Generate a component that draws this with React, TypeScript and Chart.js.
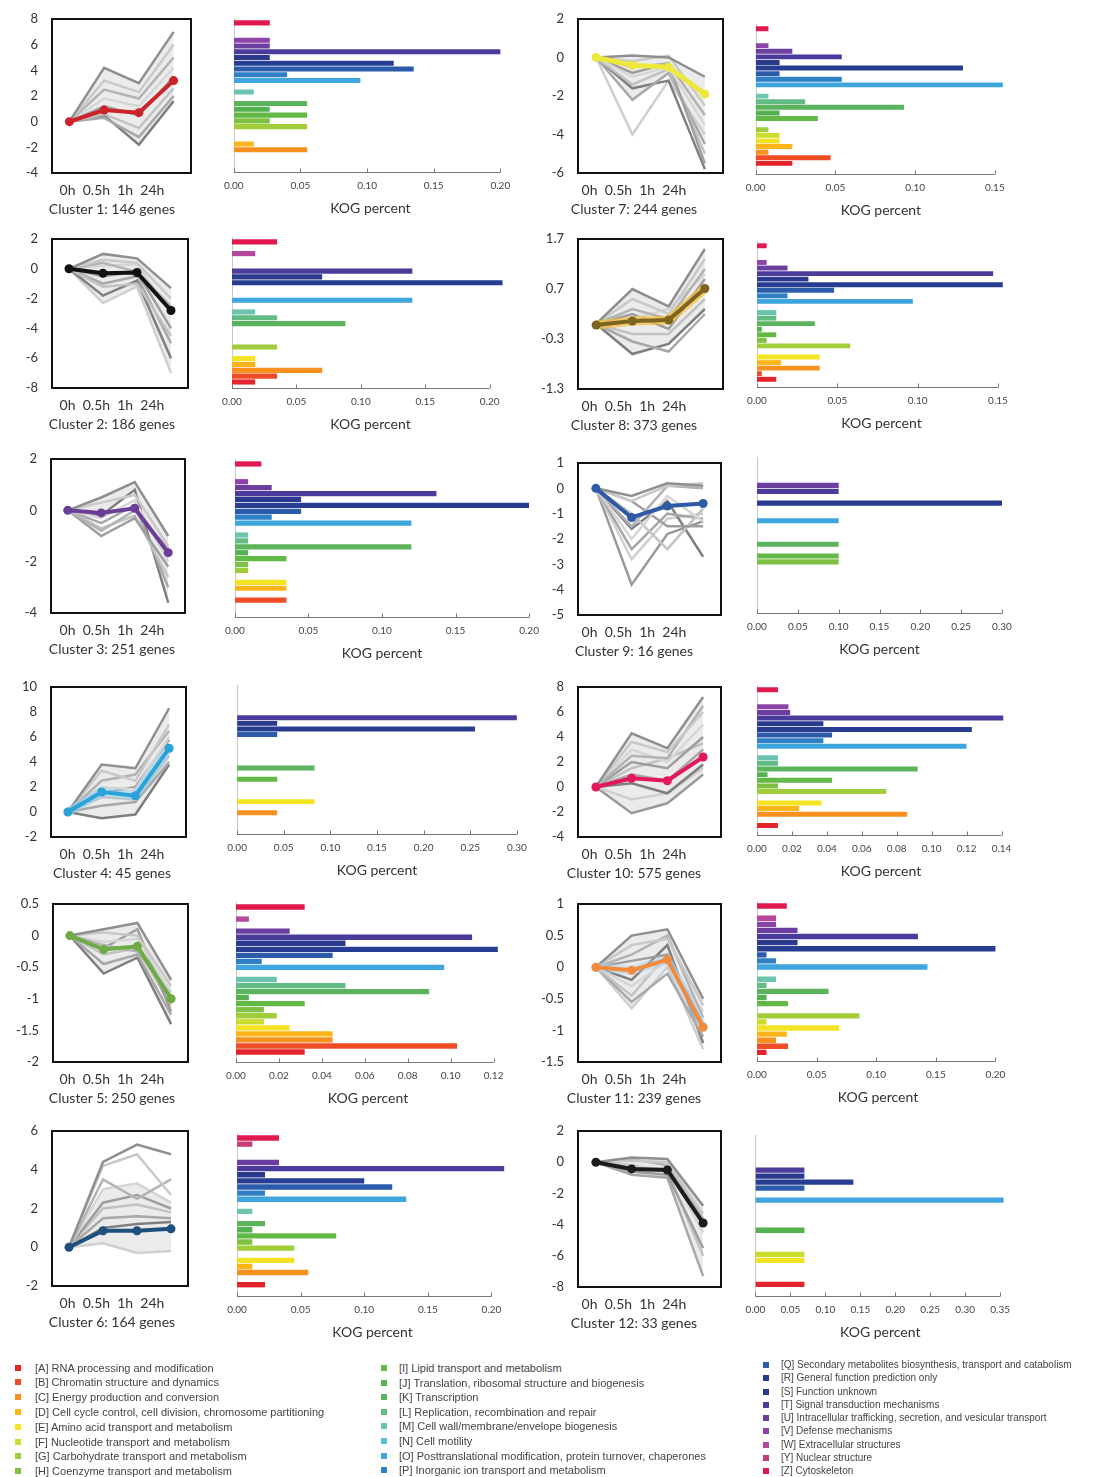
import React, { useEffect, useRef } from "react";
import { Chart, registerables } from "chart.js";

Chart.register(...registerables);

const FONT = "Lato, 'Open Sans', sans-serif";

// ---------- shared labels ----------
const timeLabels = ["0h", "0.5h", "1h", "24h"];
const kogCodes = ["A", "B", "C", "D", "E", "F", "G", "H", "I", "J", "K", "L", "M", "N", "O", "P", "Q", "R", "S", "T", "U", "V", "W", "Y", "Z"];
const kogNames = [
  "RNA processing and modification",
  "Chromatin structure and dynamics",
  "Energy production and conversion",
  "Cell cycle control, cell division, chromosome partitioning",
  "Amino acid transport and metabolism",
  "Nucleotide transport and metabolism",
  "Carbohydrate transport and metabolism",
  "Coenzyme transport and metabolism",
  "Lipid transport and metabolism",
  "Translation, ribosomal structure and biogenesis",
  "Transcription",
  "Replication, recombination and repair",
  "Cell wall/membrane/envelope biogenesis",
  "Cell motility",
  "Posttranslational modification, protein turnover, chaperones",
  "Inorganic ion transport and metabolism",
  "Secondary metabolites biosynthesis, transport and catabolism",
  "General function prediction only",
  "Function unknown",
  "Signal transduction mechanisms",
  "Intracellular trafficking, secretion, and vesicular transport",
  "Defense mechanisms",
  "Extracellular structures",
  "Nuclear structure",
  "Cytoskeleton",
];
const kogColors = [
  "#e3242b", "#ef4b26", "#f7901e", "#fbb51a", "#f3e324", "#cbdc2c", "#a2cd3a", "#80c043",
  "#63b946", "#55b04f", "#5cb35d", "#62bb82", "#6cc4b0", "#58c2d4", "#3ea6dd", "#2f7fc6",
  "#2b5ba9", "#263d92", "#2c3a8e", "#4b3b9b", "#6b3ea0", "#8c44a8", "#b5479c", "#c93a78", "#e01a4f",
];

// ---------- cluster data ----------
const clusterGenes = [146, 186, 251, 45, 250, 164, 244, 373, 16, 575, 239, 33];

const c1Main = [0, 0.9, 0.7, 3.2];
const c2Main = [0, -0.3, -0.25, -2.8];
const c3Main = [0, -0.1, 0.08, -1.65];
const c4Main = [0, 1.6, 1.3, 5.1];
const c5Main = [0, -0.22, -0.17, -1.0];
const c6Main = [0, 0.85, 0.85, 0.95];
const c7Main = [0, -0.4, -0.5, -1.9];
const c8Main = [-0.02, 0.06, 0.08, 0.71];
const c9Main = [0, -1.15, -0.7, -0.6];
const c10Main = [0, 0.7, 0.5, 2.4];
const c11Main = [0, -0.05, 0.12, -0.95];
const c12Main = [0, -0.43, -0.5, -3.9];

const c1Gray = [
  [0, 4.2, 3.0, 7.0], [0, 3.2, 2.3, 6.0], [0, 2.5, 1.8, 5.0], [0, 1.8, 1.2, 4.2],
  [0, 1.2, 0.5, 3.5], [0, 0.6, -0.5, 2.6], [0, 0.3, -1.2, 2.0], [0, 0.5, -1.8, 1.6],
];
const c2Gray = [
  [0, 1.0, 0.7, -1.3], [0, 0.6, 0.4, -2.0], [0, 0.4, -0.2, -2.5], [0, 0.2, 0.3, -3.0],
  [0, -0.5, -0.2, -4.0], [0, -1.2, -1.0, -4.5], [0, -1.0, -0.5, -5.0], [0, -1.8, -0.8, -6.0],
  [0, -2.3, -1.2, -7.0],
];
const c3Gray = [
  [0, 0.5, 1.1, -1.0], [0, 0.3, 0.6, -1.4], [0, -0.8, 0.0, -1.5], [0, -0.3, 0.4, -2.0],
  [0, -1.0, -0.3, -2.2], [0, -0.7, -0.2, -2.6], [0, -0.5, 0.2, -3.0], [0, -0.2, 0.8, -3.6],
];
const c4Gray = [
  [0, 3.8, 3.5, 8.3], [0, 3.3, 2.5, 7.0], [0, 2.5, 3.0, 6.5], [0, 2.0, 1.8, 6.0],
  [0, 1.5, 2.0, 5.8], [0, 1.2, 1.0, 4.5], [0, 0.5, 0.8, 4.0], [0, -0.5, -0.2, 3.8],
];
const c5Gray = [
  [0, 0.1, 0.2, -0.7], [0, 0.05, 0.0, -0.8], [0, -0.15, -0.25, -0.95], [0, -0.1, -0.05, -0.9],
  [0, -0.2, 0.1, -1.2], [0, -0.3, -0.2, -1.1], [0, -0.45, -0.3, -1.25], [0, -0.6, -0.35, -1.4],
];
const c6Gray = [
  [0, 4.4, 5.3, 4.8], [0, 4.2, 4.8, 2.7], [0, 3.5, 2.5, 3.5], [0, 3.0, 3.3, 2.3],
  [0, 2.3, 2.7, 2.0], [0, 2.0, 2.2, 1.8], [0, 1.5, 1.6, 1.5], [0, 1.0, 1.2, 1.3],
  [0, 0.2, -0.3, -0.2],
];
const c7Gray = [
  [0, 0.1, 0.0, -1.0], [0, -0.2, 0.1, -2.5], [0, -0.5, -0.3, -3.0], [0, -1.0, -0.5, -3.5],
  [0, -0.8, -0.3, -5.5], [0, -1.4, -0.6, -5.0], [0, -2.2, -0.8, -4.5], [0, -1.6, -1.2, -5.8],
  [0, -4.0, -1.2, -4.0],
];
const c8Gray = [
  [0, 0.7, 0.35, 1.5], [0, 0.5, 0.2, 1.3], [0, 0.3, 0.1, 1.1], [0, 0.1, 0.3, 1.0],
  [0, 0.2, -0.1, 0.9], [0, -0.2, -0.2, 0.5], [0, -0.35, -0.55, 0.2], [0, -0.6, -0.4, 0.3],
];
const c9Gray = [
  [0, -0.3, 0.2, 0.1], [0, -0.5, 0.1, 0.2], [0, -1.5, 0.1, 0.0], [0, -2.0, -0.3, -1.3],
  [0, -0.5, -1.5, -1.5], [0, -1.0, -2.4, -0.8], [0, -2.4, -1.0, -1.2], [0, -1.6, -0.5, -2.7],
  [0, -2.8, -1.2, -1.0], [0, -3.8, -1.8, -1.3],
];
const c10Gray = [
  [0, 4.3, 3.1, 7.2], [0, 3.6, 2.8, 6.0], [0, 2.5, 2.3, 6.5], [0, 3.0, 2.0, 5.0],
  [0, 2.0, 1.5, 4.0], [0, 1.5, 2.3, 3.5], [0, 1.0, 0.5, 3.0], [0, 0.3, -0.5, 1.8],
  [0, -1.0, -0.5, 1.5], [0, -2.1, -1.3, 1.0],
];
const c11Gray = [
  [0, 0.5, 0.6, -0.5], [0, 0.35, 0.45, -0.6], [0, 0.2, 0.5, -0.8], [0, -0.3, 0.1, -0.7],
  [0, 0.1, 0.2, -0.9], [0, -0.45, 0.2, -1.0], [0, -0.55, -0.1, -1.1], [0, -0.2, 0.35, -1.2],
  [0, -0.65, 0.0, -1.3],
];
const c12Gray = [
  [0, 0.3, 0.2, -2.8], [0, 0.1, 0.0, -3.3], [0, 0.2, -0.2, -3.6], [0, -0.3, -0.4, -4.5],
  [0, -0.6, -0.8, -5.5], [0, -0.2, -0.6, -6.0], [0, -0.8, -1.0, -7.3],
];

// KOG percent, in order A..Z (kogCodes)
const c1Kog = [0, 0, 0.055, 0.015, 0, 0, 0.055, 0.027, 0.055, 0.027, 0.055, 0, 0.015, 0, 0.095, 0.04, 0.135, 0.12, 0.027, 0.2, 0.027, 0.027, 0, 0, 0.027];
const c2Kog = [0.018, 0.035, 0.07, 0.018, 0.018, 0, 0.035, 0, 0, 0, 0.088, 0.035, 0.018, 0, 0.14, 0, 0, 0.21, 0.07, 0.14, 0, 0, 0.018, 0, 0.035];
const c3Kog = [0, 0.035, 0, 0.035, 0.035, 0, 0.009, 0.009, 0.035, 0.009, 0.12, 0.009, 0.009, 0, 0.12, 0.025, 0.045, 0.2, 0.045, 0.137, 0.025, 0.009, 0, 0, 0.018];
const c4Kog = [0, 0, 0.043, 0, 0.083, 0, 0, 0, 0.043, 0, 0.083, 0, 0, 0, 0, 0, 0.043, 0.255, 0.043, 0.3, 0, 0, 0, 0, 0];
const c5Kog = [0.032, 0.103, 0.045, 0.045, 0.025, 0.013, 0.019, 0.013, 0.032, 0.006, 0.09, 0.051, 0.019, 0, 0.097, 0.012, 0.045, 0.122, 0.051, 0.11, 0.025, 0, 0.006, 0, 0.032];
const c6Kog = [0.022, 0, 0.056, 0.012, 0.045, 0, 0.045, 0.012, 0.078, 0.012, 0.022, 0, 0.012, 0, 0.133, 0.022, 0.122, 0.1, 0.022, 0.21, 0.033, 0, 0, 0.012, 0.033];
const c7Kog = [0.023, 0.047, 0.008, 0.023, 0.015, 0.015, 0.008, 0, 0.039, 0.015, 0.093, 0.031, 0.008, 0, 0.155, 0.054, 0.015, 0.13, 0.015, 0.054, 0.023, 0.008, 0, 0, 0.008];
const c8Kog = [0.012, 0.003, 0.039, 0.015, 0.039, 0, 0.058, 0.006, 0.012, 0.003, 0.036, 0.012, 0.012, 0, 0.097, 0.019, 0.048, 0.153, 0.032, 0.147, 0.019, 0.006, 0, 0, 0.006];
const c9Kog = [0, 0, 0, 0, 0, 0, 0, 0.1, 0.1, 0, 0.1, 0, 0, 0, 0.1, 0, 0, 0.3, 0, 0.1, 0.1, 0, 0, 0, 0];
const c10Kog = [0.012, 0, 0.086, 0.024, 0.037, 0, 0.074, 0.012, 0.043, 0.006, 0.092, 0.012, 0.012, 0, 0.12, 0.038, 0.043, 0.123, 0.038, 0.141, 0.019, 0.018, 0, 0, 0.012];
const c11Kog = [0.008, 0.026, 0.016, 0.025, 0.069, 0.008, 0.086, 0, 0.026, 0.008, 0.06, 0.008, 0.016, 0, 0.143, 0.016, 0.008, 0.2, 0.034, 0.135, 0.034, 0.016, 0.016, 0, 0.025];
const c12Kog = [0.07, 0, 0, 0, 0.07, 0.07, 0, 0, 0, 0.07, 0, 0, 0, 0, 0.355, 0, 0.07, 0.14, 0.07, 0.07, 0, 0, 0, 0, 0];

// axis ranges
const yMins = [-4, -8, -4, -2, -2, -2, -6, -1.3, -5, -4, -1.5, -8];
const yMaxs = [8, 2, 2, 10, 0.5, 6, 2, 1.7, 1, 8, 1, 2];
const ySteps = [2, 2, 2, 2, 0.5, 2, 2, 1, 1, 2, 0.5, 2];
const kogTickMax = [0.2, 0.2, 0.2, 0.3, 0.12, 0.2, 0.15, 0.15, 0.3, 0.14, 0.2, 0.35];
const kogStep = [0.05, 0.05, 0.05, 0.05, 0.02, 0.05, 0.05, 0.05, 0.05, 0.02, 0.05, 0.05];
const kogAxisMax = [0.205, 0.215, 0.2, 0.3, 0.123, 0.213, 0.157, 0.155, 0.3, 0.142, 0.203, 0.357];

// ---------- styling / layout (not data) ----------
const lineColors = ["#cc2229", "#111111", "#6a3d96", "#2aa3d8", "#6fab45", "#1f4f7c", "#ece83c", "#7d6420", "#2e5aa6", "#e2175d", "#f28a3a", "#1c1c1c"];
const haloColors = [null, null, null, "rgba(150,210,240,0.55)", null, null, null, "rgba(245,190,60,0.7)", null, null, "rgba(170,210,240,0.5)", null];
const grayShades = ["#8f8f8f", "#c9c9c9", "#b3b3b3", "#d6d6d6", "#9e9e9e", "#c2c2c2", "#a8a8a8", "#7f7f7f", "#cfcfcf", "#999999"];
// band fill between two gray lines (indices), or null
const bandFrom = [0, 0, 0, 0, 0, 3, 0, 0, null, 0, 0, 0];
const bandTo = [7, 8, 7, 7, 7, 8, 6, 7, null, 9, 8, 6];

const lineBoxes = [
  { l: 52, r: 191, t: 19, b: 173 },
  { l: 52, r: 188, t: 239, b: 388 },
  { l: 51, r: 185, t: 459, b: 613 },
  { l: 51, r: 186, t: 687, b: 837 },
  { l: 53, r: 188, t: 904, b: 1062 },
  { l: 52, r: 188, t: 1131, b: 1286 },
  { l: 578, r: 723, t: 19, b: 173 },
  { l: 578, r: 723, t: 239, b: 389 },
  { l: 578, r: 721, t: 463, b: 615 },
  { l: 578, r: 721, t: 687, b: 837 },
  { l: 578, r: 721, t: 904, b: 1062 },
  { l: 578, r: 721, t: 1131, b: 1287 },
];
const barFrames = [
  { x0: 233, x1: 500, z: 22.7, a: 161.2, axis: 172 },
  { x0: 232, x1: 490, z: 242.3, a: 382, axis: 388 },
  { x0: 234, x1: 530, z: 464, a: 606, axis: 617 },
  { x0: 237, x1: 517, z: 690, a: 824, axis: 834 },
  { x0: 236, x1: 494, z: 907.3, a: 1052.7, axis: 1062.7 },
  { x0: 236, x1: 491, z: 1138.5, a: 1284.8, axis: 1296 },
  { x0: 755, x1: 995, z: 28.3, a: 162.7, axis: 173.3 },
  { x0: 757, x1: 998, z: 245.7, a: 379.3, axis: 387 },
  { x0: 757, x1: 1002, z: 461.5, a: 603, axis: 613 },
  { x0: 757, x1: 1002, z: 689.8, a: 825.5, axis: 835 },
  { x0: 757, x1: 995, z: 906, a: 1052.4, axis: 1061 },
  { x0: 754, x1: 1000, z: 1140, a: 1284.4, axis: 1296 },
];

const mains = [c1Main, c2Main, c3Main, c4Main, c5Main, c6Main, c7Main, c8Main, c9Main, c10Main, c11Main, c12Main];
const grays = [c1Gray, c2Gray, c3Gray, c4Gray, c5Gray, c6Gray, c7Gray, c8Gray, c9Gray, c10Gray, c11Gray, c12Gray];
const kogs = [c1Kog, c2Kog, c3Kog, c4Kog, c5Kog, c6Kog, c7Kog, c8Kog, c9Kog, c10Kog, c11Kog, c12Kog];

const fmt = (v: number, d: number) => {
  const r = Math.round(v * 1000) / 1000;
  return d > 0 ? r.toFixed(d) : String(r);
};

function LineChart({ i }: { i: number }) {
  const ref = useRef<HTMLCanvasElement>(null);
  const box = lineBoxes[i];
  const yW = 50, padT = 9, padB = 9, padR = 6;
  const w = box.r - box.l + yW + padR;
  const h = box.b - box.t + padT + padB;
  useEffect(() => {
    const g = grays[i];
    const datasets: any[] = [
      {
        data: mains[i],
        borderColor: lineColors[i],
        backgroundColor: lineColors[i],
        borderWidth: i === 6 ? 5 : 4,
        pointRadius: 4.5,
        pointBorderWidth: 0,
        fill: false,
        tension: 0,
      },
    ];
    const halo = haloColors[i];
    if (halo) {
      datasets.push({
        data: mains[i],
        borderColor: halo,
        borderWidth: 9,
        pointRadius: 0,
        fill: false,
        tension: 0,
      });
    }
    const offset = datasets.length;
    g.forEach((row, k) => {
      const from = bandFrom[i];
      const to = bandTo[i];
      datasets.push({
        data: row,
        borderColor: grayShades[k % grayShades.length],
        borderWidth: 2.5,
        pointRadius: 0,
        tension: 0,
        fill: from !== null && k === from ? { target: offset + (to as number) } : false,
        backgroundColor: "rgba(205,205,205,0.4)",
      });
    });
    const boxPlugin = {
      id: "boxFrame" + i,
      afterDraw(chart: any) {
        const { ctx, chartArea: a } = chart;
        ctx.save();
        ctx.strokeStyle = "#111";
        ctx.lineWidth = 2;
        ctx.strokeRect(a.left, a.top, a.right - a.left, a.bottom - a.top);
        ctx.restore();
      },
    };
    const chart = new Chart(ref.current as HTMLCanvasElement, {
      type: "line",
      data: { labels: timeLabels, datasets },
      options: {
        animation: false,
        responsive: false,
        devicePixelRatio: 1,
        layout: { padding: { top: padT, bottom: padB, right: padR, left: 0 } },
        plugins: { legend: { display: false }, title: { display: false }, tooltip: { enabled: false }, filler: { drawTime: "beforeDatasetsDraw" } as any },
        scales: {
          x: {
            type: "category",
            display: false,
            offset: true,
            ticks: { display: false },
            grid: { display: false, drawTicks: false },
            afterFit: (s: any) => {
              s.height = 0;
            },
          },
          y: {
            min: yMins[i],
            max: yMaxs[i],
            grid: { display: false, drawTicks: false },
            border: { display: false },
            ticks: {
              stepSize: ySteps[i],
              padding: 14,
              color: "#333",
              font: { family: FONT, size: 13 },
              callback: (v: any) => fmt(Number(v), 0),
            },
            afterFit: (s: any) => {
              s.width = yW;
              s.paddingTop = 0;
              s.paddingBottom = 0;
            },
          },
        },
      },
      plugins: [boxPlugin],
    } as any);
    return () => chart.destroy();
  }, [i]);
  return (
    <canvas
      ref={ref}
      width={w}
      height={h}
      style={{ position: "absolute", left: box.l - yW, top: box.t - padT, width: w, height: h }}
    />
  );
}

function BarChart({ i }: { i: number }) {
  const ref = useRef<HTMLCanvasElement>(null);
  const f = barFrames[i];
  const step = (f.a - f.z) / 24;
  const zTop = f.z - step / 2;
  const aBot = f.a + step / 2;
  const padL = 25, padR = 25, padT = 2;
  const pxPerUnit = (f.x1 - f.x0) / kogTickMax[i];
  const areaW = kogAxisMax[i] * pxPerUnit;
  const axisH = f.axis + 45 - aBot;
  const w = Math.round(areaW + padL + padR);
  const h = Math.round(f.axis + 45 - (zTop - padT));
  const top = Math.round(zTop - padT);
  useEffect(() => {
    const labels = kogCodes.slice().reverse();
    const values = kogs[i].slice().reverse();
    const colors = kogColors.slice().reverse();
    const axisOff = f.axis - aBot;
    const axisPlugin = {
      id: "kogAxis" + i,
      beforeDatasetsDraw(chart: any) {
        const { ctx, chartArea: a, scales } = chart;
        const x0 = scales.x.getPixelForValue(0);
        ctx.save();
        ctx.strokeStyle = "#c8c8c8";
        ctx.lineWidth = 1;
        ctx.beginPath();
        ctx.moveTo(Math.round(x0) + 0.5, a.top - 2);
        ctx.lineTo(Math.round(x0) + 0.5, a.bottom + axisOff);
        ctx.stroke();
        ctx.restore();
      },
      afterDraw(chart: any) {
        const { ctx, chartArea: a, scales } = chart;
        const xs = scales.x;
        const ay = Math.round(a.bottom + axisOff) + 0.5;
        ctx.save();
        ctx.strokeStyle = "#777";
        ctx.lineWidth = 1;
        ctx.beginPath();
        ctx.moveTo(xs.getPixelForValue(0), ay);
        ctx.lineTo(xs.getPixelForValue(kogTickMax[i]), ay);
        xs.ticks.forEach((t: any) => {
          const px = Math.round(xs.getPixelForValue(t.value)) + 0.5;
          ctx.moveTo(px, ay);
          ctx.lineTo(px, ay - 4);
        });
        ctx.stroke();
        ctx.restore();
      },
    };
    const chart = new Chart(ref.current as HTMLCanvasElement, {
      type: "bar",
      data: {
        labels,
        datasets: [
          {
            data: values,
            backgroundColor: colors,
            borderWidth: 0,
            barPercentage: 0.88,
            categoryPercentage: 1,
          },
        ],
      },
      options: {
        indexAxis: "y",
        animation: false,
        responsive: false,
        devicePixelRatio: 1,
        layout: { padding: { top: padT, bottom: 0, left: padL, right: padR } },
        plugins: { legend: { display: false }, tooltip: { enabled: false } },
        scales: {
          y: { type: "category", display: false, offset: true },
          x: {
            type: "linear",
            min: 0,
            max: kogAxisMax[i],
            bounds: "data",
            grid: { display: false, drawTicks: false },
            border: { display: false },
            ticks: {
              stepSize: kogStep[i],
              includeBounds: false,
              autoSkip: false,
              maxRotation: 0,
              padding: axisOff + 8,
              color: "#444",
              font: { family: FONT, size: 10 },
              callback: (v: any) => fmt(Number(v), 2),
            },
            title: {
              display: true,
              text: "KOG percent",
              color: "#333",
              font: { family: FONT, size: 14 },
              padding: { top: 0, bottom: 0 },
            },
            afterFit: (s: any) => {
              s.height = axisH;
            },
          },
        },
      },
      plugins: [axisPlugin],
    } as any);
    return () => chart.destroy();
  }, [i]);
  return (
    <canvas
      ref={ref}
      width={w}
      height={h}
      style={{ position: "absolute", left: f.x0 - padL, top, width: w, height: h }}
    />
  );
}

function ClusterLabels({ i }: { i: number }) {
  const box = lineBoxes[i];
  const cx = i < 6 ? 112 : 634;
  const base: React.CSSProperties = {
    position: "absolute",
    left: cx - 110,
    width: 220,
    height: 20,
    lineHeight: "20px",
    textAlign: "center",
    fontFamily: FONT,
    fontSize: 14,
    color: "#333",
    whiteSpace: "pre",
  };
  return (
    <>
      <div style={{ ...base, top: box.b + 17 - 10 }}>{timeLabels.join("  ")}</div>
      <div style={{ ...base, top: box.b + 36 - 10 }}>{`Cluster ${i + 1}: ${clusterGenes[i]} genes`}</div>
    </>
  );
}

const legendCols = [
  { start: 0, count: 8, sq: 15, tx: 35, y0: 1367.5, dy: 14.8, fs: 11 },
  { start: 8, count: 8, sq: 381, tx: 399, y0: 1368, dy: 14.6, fs: 11 },
  { start: 16, count: 9, sq: 763, tx: 781, y0: 1365, dy: 13.25, fs: 10 },
];

function Legend() {
  const items: React.ReactNode[] = [];
  legendCols.forEach((c) => {
    for (let k = 0; k < c.count; k++) {
      const idx = c.start + k;
      const y = c.y0 + k * c.dy;
      items.push(
        <div key={`sq${idx}`} style={{ position: "absolute", left: c.sq, top: y - 3, width: 6, height: 6, background: kogColors[idx] }} />
      );
      items.push(
        <div
          key={`tx${idx}`}
          style={{
            position: "absolute",
            left: c.tx,
            top: y - 8,
            height: 16,
            lineHeight: "16px",
            fontFamily: "'Liberation Sans', Arial, sans-serif",
            fontSize: c.fs,
            color: "#444",
            whiteSpace: "nowrap",
          }}
        >
          {`[${kogCodes[idx]}] ${kogNames[idx]}`}
        </div>
      );
    }
  });
  return <>{items}</>;
}

export default function App() {
  const ids = Array.from({ length: 12 }, (_, k) => k);
  return (
    <div style={{ position: "absolute", left: 0, top: 0, width: 1106, height: 1477, overflow: "hidden", background: "#fff" }}>
      {ids.map((i) => (
        <React.Fragment key={i}>
          <LineChart i={i} />
          <BarChart i={i} />
          <ClusterLabels i={i} />
        </React.Fragment>
      ))}
      <Legend />
    </div>
  );
}
